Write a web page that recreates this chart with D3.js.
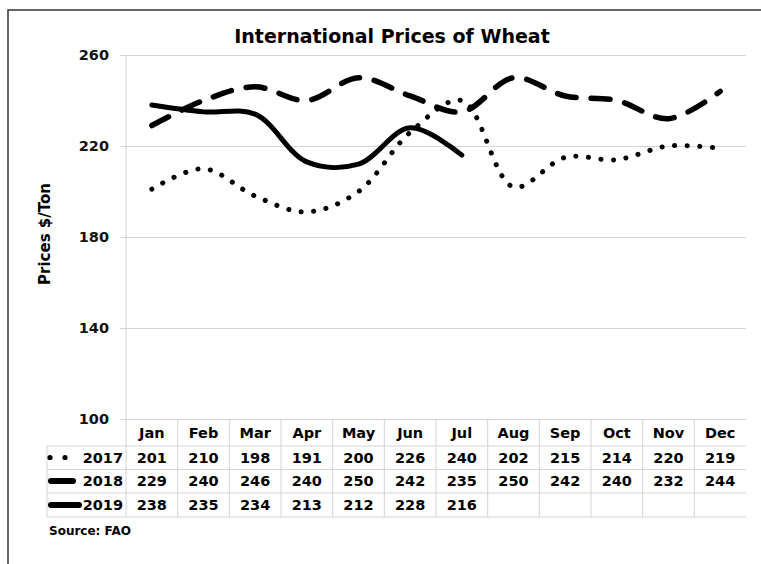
<!DOCTYPE html>
<html>
<head>
<meta charset="utf-8">
<script src="https://cdn.jsdelivr.net/npm/d3@7.9.0/dist/d3.min.js"></script>
<style>
  body { margin: 0; background: #fff; }
  svg { display: block; font-family: Tahoma, "DejaVu Sans", sans-serif; font-weight: bold; }
</style>
</head>
<body>
<svg id="chart" width="761" height="564"></svg>
<script>
const months = ['Jan', 'Feb', 'Mar', 'Apr', 'May', 'Jun', 'Jul', 'Aug', 'Sep', 'Oct', 'Nov', 'Dec'];
const prices2017 = [201, 210, 198, 191, 200, 226, 240, 202, 215, 214, 220, 219];
const prices2018 = [229, 240, 246, 240, 250, 242, 235, 250, 242, 240, 232, 244];
const prices2019 = [238, 235, 234, 213, 212, 228, 216];
const yTicks = [100, 140, 180, 220, 260];

const series = [
  { name: '2017', values: prices2017, dash: '0.1 12.5', width: 5 },
  { name: '2018', values: prices2018, dash: '19 15', width: 5.5 },
  { name: '2019', values: prices2019, dash: null, width: 5 }
];

const svg = d3.select('#chart');
const plotLeft = 126, plotRight = 746, plotTop = 55, plotBottom = 419;
const grid = '#d4d4d4';

// outer frame
svg.append('path').attr('d', 'M8,564V10H761').attr('fill', 'none')
  .attr('stroke', '#333').attr('stroke-width', 1.5);

const x = d3.scaleBand().domain(months).range([plotLeft, plotRight]);
const y = d3.scaleLinear().domain([100, 260]).range([plotBottom, plotTop]);

svg.append('text').attr('x', 392).attr('y', 43).attr('text-anchor', 'middle')
  .attr('font-size', 19).text('International Prices of Wheat');

// y axis with gridlines
const yAxis = svg.append('g').attr('transform', `translate(${plotLeft},0)`)
  .call(d3.axisLeft(y).tickValues(yTicks).tickSize(6).tickPadding(11))
  .attr('font-family', null).attr('font-size', 14.5);
yAxis.select('.domain').remove();
yAxis.selectAll('.tick line').attr('stroke', grid).attr('x2', plotRight - plotLeft).attr('x1', -6);
yAxis.selectAll('.tick text').attr('fill', '#111');
svg.append('line').attr('x1', plotLeft).attr('x2', plotLeft).attr('y1', plotTop).attr('y2', 517).attr('stroke', grid);

svg.append('text').attr('transform', 'translate(50,234) rotate(-90)')
  .attr('text-anchor', 'middle').attr('font-size', 15).text('Prices $/Ton');

// lines
const line = d3.line()
  .x((d, i) => x(months[i]) + x.bandwidth() / 2)
  .y(d => y(d))
  .curve(d3.curveCatmullRom.alpha(0.5));

series.forEach(s => {
  svg.append('path').datum(s.values).attr('d', line).attr('fill', 'none')
    .attr('stroke', '#000').attr('stroke-width', s.width)
    .attr('stroke-linecap', 'round').attr('stroke-linejoin', 'round')
    .attr('stroke-dasharray', s.dash);
});

// data table
const rowY = [419, 446, 469.5, 493, 517];
const tableLeft = 47;
months.forEach((m, i) => {
  if (i > 0) {
    svg.append('line').attr('x1', x(m)).attr('x2', x(m)).attr('y1', plotBottom).attr('y2', 517).attr('stroke', grid);
  }
  svg.append('text').attr('x', x(m) + x.bandwidth() / 2).attr('y', 433)
    .attr('text-anchor', 'middle').attr('dominant-baseline', 'central').attr('font-size', 14.5).text(m);
});
rowY.slice(1).forEach(ry => {
  svg.append('line').attr('x1', tableLeft).attr('x2', plotRight).attr('y1', ry).attr('y2', ry).attr('stroke', grid);
});
svg.append('line').attr('x1', tableLeft).attr('x2', tableLeft).attr('y1', 446).attr('y2', 517).attr('stroke', grid);

series.forEach((s, r) => {
  const cy = (rowY[r + 1] + rowY[r + 2]) / 2;
  svg.append('text').attr('x', 123).attr('y', cy).attr('text-anchor', 'end')
    .attr('dominant-baseline', 'central').attr('font-size', 14.5).text(s.name);
  s.values.forEach((v, i) => {
    svg.append('text').attr('x', x(months[i]) + x.bandwidth() / 2).attr('y', cy)
      .attr('text-anchor', 'middle').attr('dominant-baseline', 'central').attr('font-size', 14.5).text(v);
  });
});

// legend keys inside table
const key2017 = svg.append('g');
[50, 65].forEach(cx => key2017.append('circle').attr('cx', cx).attr('cy', 457.5).attr('r', 2.6).attr('fill', '#000'));
svg.append('line').attr('x1', 51).attr('x2', 73).attr('y1', 481).attr('y2', 481)
  .attr('stroke', '#000').attr('stroke-width', 6).attr('stroke-linecap', 'round');
svg.append('line').attr('x1', 51).attr('x2', 79).attr('y1', 505).attr('y2', 505)
  .attr('stroke', '#000').attr('stroke-width', 6).attr('stroke-linecap', 'round');

svg.append('text').attr('x', 49).attr('y', 535).attr('font-size', 12).text('Source:  FAO');
</script>
</body>
</html>
